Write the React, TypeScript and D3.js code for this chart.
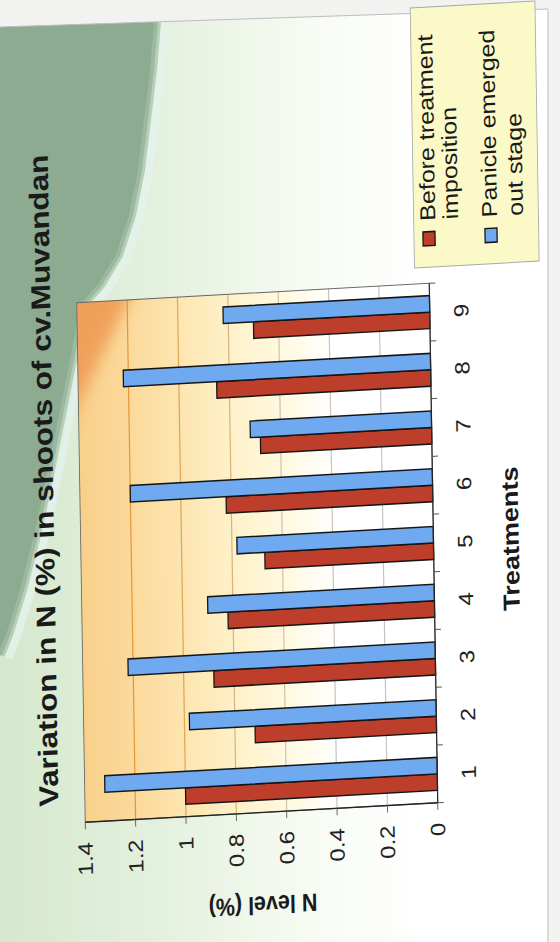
import React from 'react';
import * as d3 from 'd3';

const treatments = ['1', '2', '3', '4', '5', '6', '7', '8', '9'];
const beforeTreatment = [1.0, 0.72, 0.88, 0.82, 0.67, 0.82, 0.68, 0.85, 0.7];
const panicleEmerged = [1.32, 0.98, 1.22, 0.9, 0.78, 1.2, 0.72, 1.22, 0.82];
const valueTicks = [0, 0.2, 0.4, 0.6, 0.8, 1, 1.2, 1.4];
const legendLines = [
  ['Before treatment', 'imposition'],
  ['Panicle emerged', 'out stage'],
];
const seriesColors = ['#bd3e2b', '#6fa9ef'];
const titleText = 'Variation in N  (%) in shoots of cv.Muvandan';
const xAxisTitle = 'Treatments';
const yAxisTitle = 'N level (%)';

// photographed page: local chart frame -> image via an affine matrix
const K = 0.86;
const PW = 519.5;
const PH = 352.5 / K;
const MATRIX = [-8.5 / PW, -1, K, -19.5 / PH, 85.25, 822.25];
const FONT = '"Liberation Sans", Arial, Helvetica, sans-serif';
const PAGE = 'M0,27 L548,9 L548,942 L0,942 Z';
const BLOB_EDGE =
  'M156,22 L152,70 L146,120 L140,170 L131,215 L118,255 L100,285 L82,305 L72,360 L60,420 L48,480 L36,535 L22,590 L8,635 L0,655';
const BLOB = BLOB_EDGE + ' L0,22 Z';

export default function App() {
  const x = d3.scaleBand<string>().domain(treatments).range([0, PW]);
  const bw = x.bandwidth() / 3.5;
  const y = d3.scaleLinear().domain([0, 1.4]).range([PH, 0]);
  const gridColor = d3
    .scaleLinear<string>()
    .domain([0.3, 0.6, 0.9, 1.2])
    .range(['#c4c4c4', '#cfc2ac', '#e0aa62', '#e69535'])
    .clamp(true);
  const series = [beforeTreatment, panicleEmerged];
  const bandEdges = [...treatments.map((t) => x(t) as number), PW];

  const legendBaselines = [
    [418, 444.5],
    [489.9, 520.1],
  ];
  const legendMarkerY = [403.5, 475.6];

  return (
    <svg
      width={560}
      height={942}
      style={{ position: 'fixed', left: 0, top: 0, display: 'block' }}
    >
      <defs>
        <linearGradient id="pageGrad" x1="0" y1="0" x2="560" y2="0" gradientUnits="userSpaceOnUse">
          <stop offset="0" stopColor="#d5e8cd" />
          <stop offset="0.3" stopColor="#e5f1df" />
          <stop offset="0.55" stopColor="#f7fbf3" />
          <stop offset="0.75" stopColor="#ffffff" />
          <stop offset="1" stopColor="#ffffff" />
        </linearGradient>
        <linearGradient id="plotGrad" x1="0" y1="0" x2="0" y2={PH} gradientUnits="userSpaceOnUse">
          <stop offset="0" stopColor="#f8d08a" />
          <stop offset="0.15" stopColor="#fbda9c" />
          <stop offset="0.3" stopColor="#fde6b2" />
          <stop offset="0.45" stopColor="#fff2cc" />
          <stop offset="0.6" stopColor="#fffae4" />
          <stop offset="0.72" stopColor="#ffffff" />
          <stop offset="1" stopColor="#ffffff" />
        </linearGradient>
        <filter id="blur2" x="-50%" y="-50%" width="200%" height="200%">
          <feGaussianBlur stdDeviation="8" />
        </filter>
        <clipPath id="plotClip">
          <rect x={0} y={0} width={PW} height={PH} />
        </clipPath>
        <clipPath id="pageClip">
          <path d={PAGE} />
        </clipPath>
      </defs>

      {/* photo background */}
      <rect width={560} height={942} fill="#f2f2f0" />
      <path d={PAGE} fill="url(#pageGrad)" />
      <g clipPath="url(#pageClip)">
        <path d={BLOB_EDGE} fill="none" stroke="#e4f2ec" strokeWidth={26} strokeLinejoin="round" opacity={0.8} />
        <path d={BLOB_EDGE} fill="none" stroke="#b7cfb9" strokeWidth={10} strokeLinejoin="round" />
        <path d={BLOB} fill="#8cab90" />
        <path d={BLOB_EDGE} fill="none" stroke="#9cb89f" strokeWidth={4} strokeLinejoin="round" />
      </g>
      <path d="M0,27 L548,9" stroke="#bcbcbc" strokeWidth={1} fill="none" />
      <line x1={548} y1={9} x2={548} y2={942} stroke="#d0d0d0" strokeWidth={1.5} />

      <g transform={`matrix(${MATRIX.join(' ')})`} fontFamily={FONT}>
        {/* plot area */}
        <rect x={0} y={0} width={PW} height={PH} fill="url(#plotGrad)" />
        <g clipPath="url(#plotClip)">
          <path
            d={`M${PW + 20},-20 L${PW + 20},${62 / K} L385,-20 Z`}
            fill="#ee9c56"
            opacity={0.9}
            filter="url(#blur2)"
          />
        </g>

        {/* gridlines */}
        {valueTicks
          .filter((v) => v > 0 && v < 1.4)
          .map((v) => (
            <line
              key={'g' + v}
              x1={0}
              x2={PW}
              y1={y(v)}
              y2={y(v)}
              stroke={gridColor(v)}
              strokeWidth={1.4}
            />
          ))}

        {/* bars */}
        {series.map((vals, si) =>
          treatments.map((t, i) => (
            <rect
              key={`b${si}-${i}`}
              x={(x(t) as number) + bw * 0.75 + si * bw}
              y={y(vals[i])}
              width={bw}
              height={PH - y(vals[i])}
              fill={seriesColors[si]}
              stroke="#151515"
              strokeWidth={1.5}
            />
          ))
        )}

        {/* plot border and axes */}
        <rect x={0} y={0} width={PW} height={PH} fill="none" stroke="#666" strokeWidth={1} />
        <line x1={0} x2={PW} y1={PH} y2={PH} stroke="#222" strokeWidth={1.3} />
        <line x1={0} x2={0} y1={0} y2={PH} stroke="#222" strokeWidth={1.3} />
        {valueTicks.map((v) => (
          <line key={'vt' + v} x1={-7} x2={0} y1={y(v)} y2={y(v)} stroke="#555" strokeWidth={1} />
        ))}
        {bandEdges.map((e, i) => (
          <line key={'ct' + i} x1={e} x2={e} y1={PH} y2={PH + 7} stroke="#555" strokeWidth={1} />
        ))}

        {/* tick labels */}
        {valueTicks.map((v) => (
          <text
            key={'vl' + v}
            x={-20}
            y={y(v)}
            textAnchor="end"
            dominantBaseline="central"
            fontSize={24}
            fill="#222"
          >
            {String(+v.toFixed(1))}
          </text>
        ))}
        {treatments.map((t) => (
          <text
            key={'cl' + t}
            x={(x(t) as number) + x.bandwidth() / 2}
            y={PH + 45}
            textAnchor="middle"
            fontSize={24}
            fill="#222"
          >
            {t}
          </text>
        ))}

        {/* axis titles */}
        <text x={PW / 2} y={PH + 99} textAnchor="middle" fontSize={27} fontWeight="bold" fill="#1a1a1a">
          {xAxisTitle}
        </text>
        <text
          transform={`translate(-84, ${PH / 2}) rotate(-90)`}
          textAnchor="middle"
          fontSize={25}
          fontWeight="bold"
          fill="#1a1a1a"
        >
          {yAxisTitle}
        </text>

        {/* title */}
        <text x={343.7} y={-31} textAnchor="middle" fontSize={31.5} fontWeight="bold" fill="#1a1a1a">
          {titleText}
        </text>

        {/* legend */}
        <rect x={535.6} y={393} width={260} height={145} fill="#fcf9c8" stroke="#a8a8a8" strokeWidth={1} />
        {legendLines.map((lines, si) => (
          <g key={'lg' + si}>
            <rect
              x={557}
              y={legendMarkerY[si]}
              width={14}
              height={14}
              fill={seriesColors[si]}
              stroke="#151515"
              strokeWidth={1.5}
            />
            {lines.map((ln, li) => (
              <text key={li} x={582} y={legendBaselines[si][li]} fontSize={25} fill="#1a1a1a">
                {ln}
              </text>
            ))}
          </g>
        ))}
      </g>
    </svg>
  );
}
